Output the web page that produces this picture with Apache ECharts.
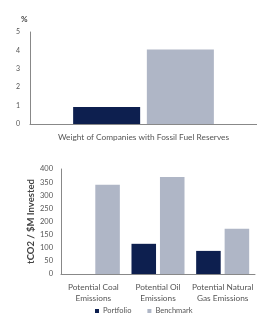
<!DOCTYPE html>
<html>
<head>
<meta charset="utf-8">
<script src="https://cdn.jsdelivr.net/npm/echarts@6/dist/echarts.min.js"></script>
<style>
  html, body { margin: 0; padding: 0; background: #fff; }
  #chart { width: 257px; height: 317px; }
</style>
</head>
<body>
<div id="chart"></div>
<script>
const seriesNames = ['Portfolio', 'Benchmark'];

const weightCategories = ['Weight of Companies with Fossil Fuel Reserves'];
const weightPortfolio = [0.92];
const weightBenchmark = [4.05];
const weightTicks = [0, 1, 2, 3, 4, 5];

const emissionCategories = ['Potential Coal\nEmissions', 'Potential Oil\nEmissions', 'Potential Natural\nGas Emissions'];
const emissionPortfolio = [0, 115, 88];
const emissionBenchmark = [340, 370, 172];

const navy = '#0d1f4f';
const grey = '#afb6c6';
const textColor = '#555';
const font = 'Lato';

const chart = echarts.init(document.getElementById('chart'));

chart.setOption({
  animation: false,
  color: [navy, grey],
  textStyle: { fontFamily: font },
  title: {
    text: '%',
    left: 16,
    top: 10,
    textStyle: { fontSize: 8, fontWeight: 'bold', color: '#444', fontFamily: font }
  },
  legend: {
    data: seriesNames,
    left: 90,
    bottom: -3,
    itemWidth: 4,
    itemHeight: 4,
    itemGap: 16,
    icon: 'rect',
    textStyle: { fontSize: 7.5, color: textColor, padding: [0, 0, 0, -1] }
  },
  grid: [
    { left: 30, top: 32, width: 233, height: 92 },
    { left: 61, top: 169, width: 194, height: 105 }
  ],
  xAxis: [{
    gridIndex: 0,
    type: 'category',
    data: weightCategories,
    axisLine: { lineStyle: { color: '#888' } },
    axisTick: { show: false },
    axisLabel: { fontSize: 8.3, color: textColor, margin: 9 }
  }, {
    gridIndex: 1,
    type: 'category',
    data: emissionCategories,
    axisLine: { lineStyle: { color: '#888' } },
    axisTick: { show: false },
    axisLabel: { fontSize: 8.3, color: textColor, margin: 8, lineHeight: 11, interval: 0 }
  }],
  yAxis: [{
    gridIndex: 0,
    type: 'value',
    min: weightTicks[0],
    max: weightTicks[weightTicks.length - 1],
    interval: 1,
    axisLine: { show: true, lineStyle: { color: '#888' } },
    axisTick: { show: false },
    splitLine: { show: false },
    axisLabel: { fontSize: 7, color: textColor, margin: 10 }
  }, {
    gridIndex: 1,
    type: 'value',
    min: 0,
    max: 400,
    interval: 50,
    name: 'tCO2 / $M Invested',
    nameLocation: 'middle',
    nameRotate: 90,
    nameGap: 25,
    nameMoveOverlap: false,
    nameTextStyle: { fontSize: 9.5, fontWeight: 'bold', color: '#444' },
    axisLine: { show: true, lineStyle: { color: '#888' } },
    axisTick: { show: false },
    splitLine: { show: false },
    axisLabel: { fontSize: 7.5, color: textColor, margin: 8 }
  }],
  series: [{
    name: seriesNames[0],
    type: 'bar',
    xAxisIndex: 0,
    yAxisIndex: 0,
    data: weightPortfolio,
    barGap: '10%',
    barCategoryGap: '38%'
  }, {
    name: seriesNames[1],
    type: 'bar',
    xAxisIndex: 0,
    yAxisIndex: 0,
    data: weightBenchmark,
    barGap: '10%',
    barCategoryGap: '38%'
  }, {
    name: seriesNames[0],
    type: 'bar',
    xAxisIndex: 1,
    yAxisIndex: 1,
    data: emissionPortfolio,
    barGap: '16%',
    barCategoryGap: '18%'
  }, {
    name: seriesNames[1],
    type: 'bar',
    xAxisIndex: 1,
    yAxisIndex: 1,
    data: emissionBenchmark,
    barGap: '16%',
    barCategoryGap: '18%'
  }]
});
</script>
</body>
</html>
